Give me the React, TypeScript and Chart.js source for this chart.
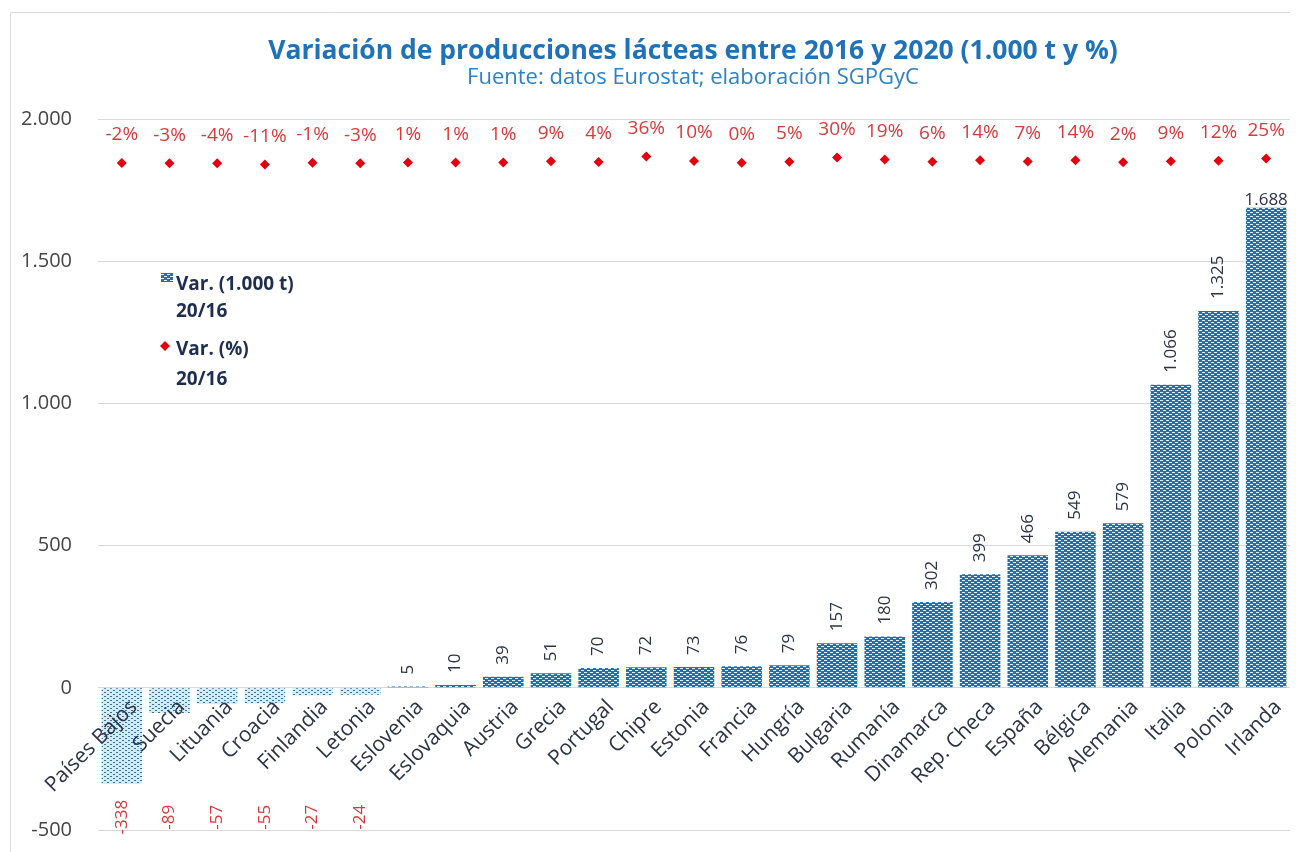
import React, { useEffect, useRef } from "react";
import { Chart, registerables } from "chart.js";

Chart.register(...registerables);

const categories = [
  "Países Bajos", "Suecia", "Lituania", "Croacia", "Finlandia", "Letonia", "Eslovenia",
  "Eslovaquia", "Austria", "Grecia", "Portugal", "Chipre", "Estonia", "Francia", "Hungría",
  "Bulgaria", "Rumanía", "Dinamarca", "Rep. Checa", "España", "Bélgica", "Alemania",
  "Italia", "Polonia", "Irlanda",
];
const varTons = [
  -338, -89, -57, -55, -27, -24, 5, 10, 39, 51, 70, 72, 73, 76, 79, 157, 180, 302, 399,
  466, 549, 579, 1066, 1325, 1688,
];
const varPct = [
  -2, -3, -4, -11, -1, -3, 1, 1, 1, 9, 4, 36, 10, 0, 5, 30, 19, 6, 14, 7, 14, 2, 9, 12, 25,
];
const yTicks = [-500, 0, 500, 1000, 1500, 2000];

const TITLE = "Variación de producciones lácteas entre 2016 y 2020 (1.000 t y %)";
const SUBTITLE = "Fuente: datos Eurostat; elaboración SGPGyC";
const FONT = "'Open Sans', 'Noto Sans', sans-serif";

function fmt(v: number): string {
  const s = Math.abs(v).toString().replace(/\B(?=(\d{3})+(?!\d))/g, ".");
  return (v < 0 ? "-" : "") + s;
}

function makePattern(bg: string, fg: string, w: number): CanvasPattern | string {
  const c = document.createElement("canvas");
  c.width = 6;
  c.height = 4;
  const g = c.getContext("2d");
  if (!g) return bg;
  g.fillStyle = bg;
  g.fillRect(0, 0, 6, 4);
  g.fillStyle = fg;
  g.fillRect(0, 0, w, 1);
  g.fillRect(3, 2, w, 1);
  const p = g.createPattern(c, "repeat");
  return p || bg;
}

export default function App() {
  const ref = useRef<HTMLCanvasElement | null>(null);

  useEffect(() => {
    if (!ref.current) return;
    const posPat = makePattern("#1b72b8", "#e8f3fc", 3);
    const negPat = makePattern("#d6eaf6", "#3d7193", 2);

    const decorPlugin = {
      id: "decor",
      beforeDraw(chart: any) {
        const ctx = chart.ctx;
        ctx.save();
        ctx.strokeStyle = "#dcdcdc";
        ctx.lineWidth = 1;
        ctx.beginPath();
        ctx.moveTo(2.5, chart.height);
        ctx.lineTo(2.5, 4.5);
        ctx.lineTo(chart.width, 4.5);
        ctx.stroke();
        ctx.textAlign = "center";
        ctx.textBaseline = "middle";
        ctx.fillStyle = "#1f72b8";
        ctx.font = `bold 26.5px ${FONT}`;
        ctx.fillText(TITLE, 685, 43);
        ctx.fillStyle = "#2e82c4";
        ctx.font = `22px ${FONT}`;
        ctx.fillText(SUBTITLE, 685, 70);
        ctx.textAlign = "left";
        ctx.fillStyle = posPat as any;
        ctx.fillRect(153, 265, 12, 9);
        ctx.fillStyle = "#e3000f";
        ctx.beginPath();
        ctx.moveTo(157, 333);
        ctx.lineTo(162, 338);
        ctx.lineTo(157, 343);
        ctx.lineTo(152, 338);
        ctx.closePath();
        ctx.fill();
        ctx.fillStyle = "#1f2d50";
        ctx.font = `bold 19px ${FONT}`;
        ctx.fillText("Var. (1.000 t)", 168, 277);
        ctx.fillText("20/16", 168, 304);
        ctx.fillText("Var. (%)", 168, 342);
        ctx.fillText("20/16", 168, 372);
        ctx.restore();
      },
      afterDatasetsDraw(chart: any) {
        const ctx = chart.ctx;
        const yScale = chart.scales.y;
        const bars = chart.getDatasetMeta(0).data;
        const pts = chart.getDatasetMeta(1).data;
        const zeroY = yScale.getPixelForValue(0);
        ctx.save();
        bars.forEach((bar: any, i: number) => {
          const v = varTons[i];
          const x = bar.x;
          if (v >= 0) {
            ctx.fillStyle = "#2b3446";
            ctx.font = `17px ${FONT}`;
            if (v > 1600) {
              ctx.textAlign = "center";
              ctx.textBaseline = "bottom";
              ctx.fillText(fmt(v), x, bar.y + 1);
            } else {
              ctx.save();
              ctx.translate(x, bar.y - 12);
              ctx.rotate(-Math.PI / 2);
              ctx.textAlign = "left";
              ctx.textBaseline = "middle";
              ctx.fillText(fmt(v), 0, 0);
              ctx.restore();
            }
          } else {
            ctx.fillStyle = "#d83a3a";
            ctx.font = `17px ${FONT}`;
            ctx.save();
            ctx.translate(x, yScale.getPixelForValue(-455));
            ctx.rotate(-Math.PI / 2);
            ctx.textAlign = "center";
            ctx.textBaseline = "middle";
            ctx.fillText(fmt(v), 0, 0);
            ctx.restore();
          }
          ctx.fillStyle = "#2b3446";
          ctx.font = `21px ${FONT}`;
          ctx.save();
          ctx.translate(x + 12, zeroY + 16);
          ctx.rotate(-Math.PI / 4);
          ctx.textAlign = "right";
          ctx.textBaseline = "middle";
          ctx.fillText(categories[i], 0, 0);
          ctx.restore();
        });
        pts.forEach((pt: any, i: number) => {
          ctx.fillStyle = "#d83a3a";
          ctx.font = `19px ${FONT}`;
          ctx.textAlign = "center";
          ctx.textBaseline = "middle";
          ctx.fillText(varPct[i] + "%", pt.x, pt.y - 28);
        });
        ctx.restore();
      },
    };

    const chart = new Chart(ref.current, {
      type: "bar",
      data: {
        labels: categories,
        datasets: [
          {
            type: "bar",
            label: "Var. (1.000 t) 20/16",
            data: varTons,
            backgroundColor: varTons.map((v) => (v < 0 ? negPat : posPat)) as any,
            borderWidth: 0,
            barPercentage: 0.85,
            categoryPercentage: 1,
            yAxisID: "y",
            order: 2,
          },
          {
            type: "line",
            label: "Var. (%) 20/16",
            data: varPct,
            showLine: false,
            pointStyle: "rectRot",
            pointRadius: 5,
            pointBackgroundColor: "#e3000f",
            pointBorderColor: "#e3000f",
            pointBorderWidth: 0,
            yAxisID: "y2",
            order: 1,
          } as any,
        ],
      },
      options: {
        responsive: false,
        animation: false,
        layout: { padding: { top: 111, bottom: 22, right: 8, left: 0 } },
        plugins: {
          legend: { display: false },
          title: { display: false },
          tooltip: { enabled: false },
        },
        scales: {
          x: { display: false },
          y: {
            min: -500,
            max: 2000,
            afterBuildTicks(scale: any) {
              scale.ticks = yTicks.map((v) => ({ value: v }));
            },
            afterFit(scale: any) {
              scale.width = 90;
              scale.paddingTop = 0;
              scale.paddingBottom = 0;
            },
            border: { display: false },
            grid: { color: "#d9d9d9", drawTicks: false },
            ticks: {
              padding: 26,
              color: "#454545",
              font: { family: FONT, size: 20 },
              callback: (v: any) => fmt(Number(v)),
            },
          },
          y2: {
            display: false,
            min: -3925,
            max: 257,
          },
        },
      },
      plugins: [decorPlugin],
    });
    return () => chart.destroy();
  }, []);

  return (
    <div style={{ position: "relative", width: 1290, height: 844 }}>
      <canvas ref={ref} width={1290} height={844} style={{ width: 1290, height: 844 }} />
    </div>
  );
}
